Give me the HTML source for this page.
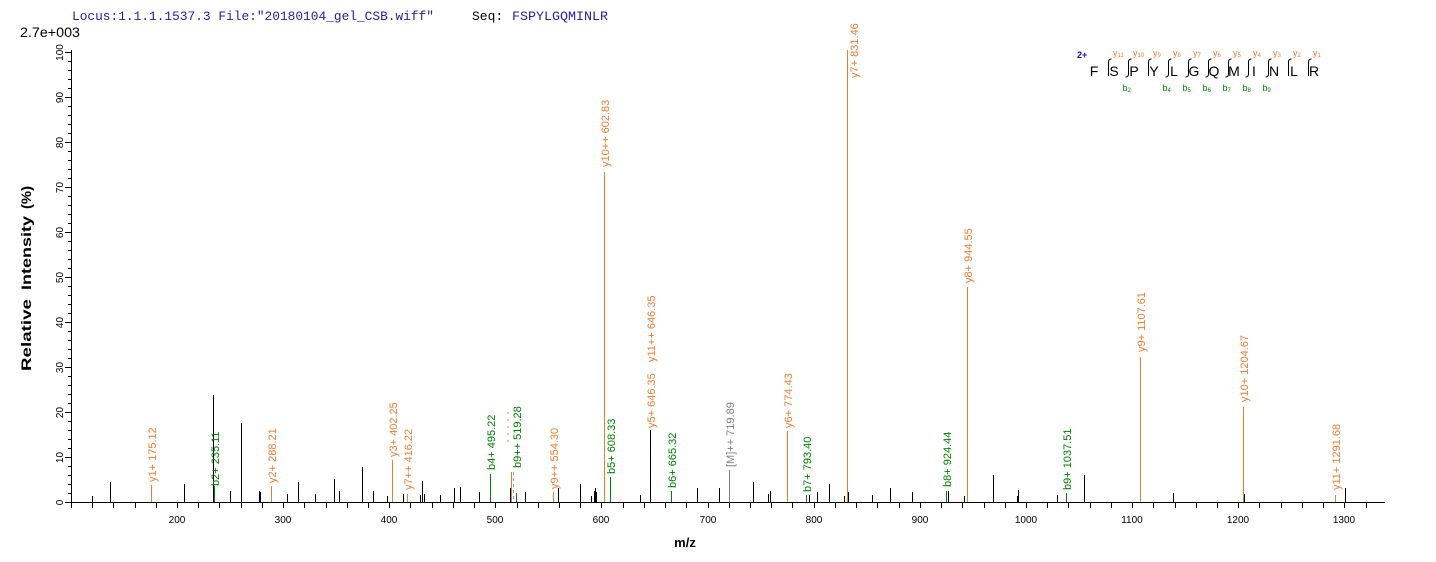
<!DOCTYPE html>
<html><head><meta charset="utf-8"><style>
html,body{margin:0;padding:0;background:#fff;}
svg{display:block;}
text{font-family:"Liberation Sans",Arial,sans-serif;}
.mono{font-family:"Liberation Mono","Courier New",monospace;}
</style></head><body>
<svg width="1436" height="562" viewBox="0 0 1436 562" xmlns="http://www.w3.org/2000/svg">
<rect width="1436" height="562" fill="#fff"/>
<!-- header -->
<text class="mono" x="72" y="20" font-size="13" fill="#2222a8" textLength="362" lengthAdjust="spacingAndGlyphs">Locus:1.1.1.1537.3 File:"20180104_gel_CSB.wiff"</text>
<text class="mono" x="472" y="20" font-size="13" fill="#000">Seq:</text>
<text class="mono" x="512" y="20" font-size="13" fill="#2222a8" textLength="96" lengthAdjust="spacingAndGlyphs">FSPYLGQMINLR</text>
<text x="20" y="37" font-size="13.5" fill="#000" textLength="60" lengthAdjust="spacingAndGlyphs">2.7e+003</text>

<!-- y axis title -->
<g font-weight="bold" font-size="14" fill="#000">
<text transform="translate(31,371) rotate(-90)" textLength="72" lengthAdjust="spacingAndGlyphs">Relative</text>
<text transform="translate(31,290) rotate(-90)" textLength="74" lengthAdjust="spacingAndGlyphs">Intensity</text>
<text transform="translate(31,209) rotate(-90)" textLength="23" lengthAdjust="spacingAndGlyphs">(%)</text>
</g>
<text x="685" y="547" font-size="13" font-weight="bold" text-anchor="middle">m/z</text>

<!-- axes -->
<g stroke="#000" stroke-width="1" shape-rendering="crispEdges" fill="none">
<line x1="71.5" y1="50" x2="71.5" y2="503"/>
<line x1="71" y1="502.5" x2="1385" y2="502.5"/>
<path d="M65 502.5H71M65 457.5H71M65 412.5H71M65 367.5H71M65 322.5H71M65 277.5H71M65 232.5H71M65 187.5H71M65 142.5H71M65 97.5H71M65 52.5H71"/>
<path d="M68 493.5H71M68 484.5H71M68 475.5H71M68 466.5H71M68 448.5H71M68 439.5H71M68 430.5H71M68 421.5H71M68 403.5H71M68 394.5H71M68 385.5H71M68 376.5H71M68 358.5H71M68 349.5H71M68 340.5H71M68 331.5H71M68 313.5H71M68 304.5H71M68 295.5H71M68 286.5H71M68 268.5H71M68 259.5H71M68 250.5H71M68 241.5H71M68 223.5H71M68 214.5H71M68 205.5H71M68 196.5H71M68 178.5H71M68 169.5H71M68 160.5H71M68 151.5H71M68 133.5H71M68 124.5H71M68 115.5H71M68 106.5H71M68 88.5H71M68 79.5H71M68 70.5H71M68 61.5H71"/>
<path d="M71.5 502V508M92.5 502V508M113.5 502V508M135.5 502V508M156.5 502V508M177.5 502V508M198.5 502V508M219.5 502V508M241.5 502V508M262.5 502V508M283.5 502V508M304.5 502V508M326.5 502V508M347.5 502V508M368.5 502V508M389.5 502V508M410.5 502V508M432.5 502V508M453.5 502V508M474.5 502V508M495.5 502V508M517.5 502V508M538.5 502V508M559.5 502V508M580.5 502V508M601.5 502V508M623.5 502V508M644.5 502V508M665.5 502V508M686.5 502V508M708.5 502V508M729.5 502V508M750.5 502V508M771.5 502V508M792.5 502V508M814.5 502V508M835.5 502V508M856.5 502V508M877.5 502V508M899.5 502V508M920.5 502V508M941.5 502V508M962.5 502V508M984.5 502V508M1005.5 502V508M1026.5 502V508M1047.5 502V508M1068.5 502V508M1090.5 502V508M1111.5 502V508M1132.5 502V508M1153.5 502V508M1175.5 502V508M1196.5 502V508M1217.5 502V508M1238.5 502V508M1259.5 502V508M1281.5 502V508M1302.5 502V508M1323.5 502V508M1344.5 502V508M1366.5 502V508"/>
</g>
<!-- y labels -->
<g font-size="10" fill="#000" text-anchor="middle">
<text transform="translate(63,502.5) rotate(-90)">0</text>
<text transform="translate(63,457.5) rotate(-90)">10</text>
<text transform="translate(63,412.5) rotate(-90)">20</text>
<text transform="translate(63,367.5) rotate(-90)">30</text>
<text transform="translate(63,322.5) rotate(-90)">40</text>
<text transform="translate(63,277.5) rotate(-90)">50</text>
<text transform="translate(63,232.5) rotate(-90)">60</text>
<text transform="translate(63,187.5) rotate(-90)">70</text>
<text transform="translate(63,142.5) rotate(-90)">80</text>
<text transform="translate(63,97.5) rotate(-90)">90</text>
<text transform="translate(63,52.5) rotate(-90)">100</text>
</g>
<!-- x labels -->
<g font-size="10" fill="#000" text-anchor="middle">
<text x="177" y="523">200</text><text x="283" y="523">300</text><text x="389" y="523">400</text><text x="495" y="523">500</text><text x="601" y="523">600</text><text x="708" y="523">700</text><text x="814" y="523">800</text><text x="920" y="523">900</text><text x="1026" y="523">1000</text><text x="1132" y="523">1100</text><text x="1238" y="523">1200</text><text x="1344" y="523">1300</text>
</g>

<!-- black peaks -->
<path stroke="#000" stroke-width="1" shape-rendering="crispEdges" fill="none" d="M92.5 502V496M110.5 502V482M184.5 502V484M213.5 502V395M230.5 502V491M241.5 502V423M259.5 502V491M260.5 502V492M287.5 502V494M298.5 502V482M315.5 502V494M334.5 502V479M339.5 502V491M362.5 502V467M373.5 502V491M387.5 502V496M403.5 502V494M420.5 502V495M422.5 502V481M424.5 502V494M440.5 502V495M454.5 502V488M460.5 502V487M479.5 502V492M510.5 502V488M525.5 502V492M558.5 502V488M580.5 502V484M591.5 502V496M594.5 502V491M595.5 502V488M596.5 502V492M640.5 502V495M650.5 502V430M697.5 502V488M719.5 502V488M753.5 502V482M768.5 502V494M770.5 502V491M809.5 502V495M817.5 502V492M829.5 502V484M844.5 502V496M848.5 502V492M872.5 502V495M890.5 502V488M912.5 502V492M948.5 502V491M964.5 502V496M993.5 502V475M1017.5 502V496M1018.5 502V490M1057.5 502V495M1084.5 502V475M1173.5 502V493M1244.5 502V494M1345.5 502V488"/>
<!-- orange peaks -->
<path stroke="#ED7D31" stroke-width="1" shape-rendering="crispEdges" fill="none" d="M151.5 502V485M271.5 502V486M392.5 502V460M407.5 502V494M511.5 502V472M553.5 502V492M604.5 502V172M787.5 502V431M847.5 502V50M967.5 502V287M1140.5 502V357M1243.5 502V407M1335.5 502V495"/>
<!-- green peaks -->
<path stroke="#008000" stroke-width="1" shape-rendering="crispEdges" fill="none" d="M214.5 502V486M490.5 502V474M516.5 502V493M610.5 502V477M671.5 502V491M806.5 502V495M946.5 502V491M1066.5 502V493"/>
<!-- gray -->
<path stroke="#808080" stroke-width="1" shape-rendering="crispEdges" fill="none" d="M729.5 502V470"/>
<line x1="508" y1="412" x2="508" y2="447" stroke="#ED7D31" stroke-dasharray="2,5"/>
<line x1="513.5" y1="472" x2="513.5" y2="501" stroke="#999" stroke-dasharray="3,3"/>

<!-- peak labels -->
<g font-size="11">
<g fill="#ED7D31">
<text transform="translate(156,482) rotate(-90)">y1+ 175.12</text>
<text transform="translate(276,483) rotate(-90)">y2+ 288.21</text>
<text transform="translate(397,457) rotate(-90)">y3+ 402.25</text>
<text transform="translate(412,490) rotate(-90)">y7++ 416.22</text>
<text transform="translate(558,489) rotate(-90)">y9++ 554.30</text>
<text transform="translate(609,167) rotate(-90)">y10++ 602.83</text>
<text transform="translate(655,428) rotate(-90)">y5+ 646.35</text>
<text transform="translate(655,362) rotate(-90)">y11++ 646.35</text>
<text transform="translate(792,428) rotate(-90)">y6+ 774.43</text>
<text transform="translate(858,78) rotate(-90)">y7+ 831.46</text>
<text transform="translate(972,283) rotate(-90)">y8+ 944.55</text>
<text transform="translate(1145,352) rotate(-90)">y9+ 1107.61</text>
<text transform="translate(1248,402) rotate(-90)">y10+ 1204.67</text>
<text transform="translate(1340,490) rotate(-90)">y11+ 1291.68</text>
</g>
<g fill="#008000">
<text transform="translate(219,486) rotate(-90)">b2+ 235.11</text>
<text transform="translate(495,470) rotate(-90)">b4+ 495.22</text>
<text transform="translate(521,468) rotate(-90)">b9++ 519.28</text>
<text transform="translate(615,474) rotate(-90)">b5+ 608.33</text>
<text transform="translate(676,488) rotate(-90)">b6+ 665.32</text>
<text transform="translate(811,492) rotate(-90)">b7+ 793.40</text>
<text transform="translate(951,487) rotate(-90)">b8+ 924.44</text>
<text transform="translate(1071,490) rotate(-90)">b9+ 1037.51</text>
</g>
<text transform="translate(734,467) rotate(-90)" fill="#808080">[M]++ 719.89</text>
</g>

<!-- legend -->
<g>
<text x="1077" y="58" font-size="9" font-weight="bold" fill="#1010c8">2+</text>
<g font-size="14" text-anchor="middle" fill="#000">
<text x="1094" y="76">F</text><text x="1114" y="76">S</text><text x="1134" y="76">P</text><text x="1154" y="76">Y</text><text x="1174" y="76">L</text><text x="1194" y="76">G</text><text x="1214" y="76">Q</text><text x="1234" y="76">M</text><text x="1254" y="76">I</text><text x="1274" y="76">N</text><text x="1294" y="76">L</text><text x="1314" y="76">R</text>
</g>
<g fill="none" stroke="#000" stroke-width="1">
<path d="M1111.5,59 Q1108.5,59 1108.5,62 L1108.5,76"/>
<path d="M1131.5,59 Q1128.5,59 1128.5,62 L1128.5,74 Q1128.5,77 1125.5,77"/>
<path d="M1151.5,59 Q1148.5,59 1148.5,62 L1148.5,76"/>
<path d="M1171.5,59 Q1168.5,59 1168.5,62 L1168.5,74 Q1168.5,77 1165.5,77"/>
<path d="M1191.5,59 Q1188.5,59 1188.5,62 L1188.5,74 Q1188.5,77 1185.5,77"/>
<path d="M1211.5,59 Q1208.5,59 1208.5,62 L1208.5,74 Q1208.5,77 1205.5,77"/>
<path d="M1231.5,59 Q1228.5,59 1228.5,62 L1228.5,74 Q1228.5,77 1225.5,77"/>
<path d="M1251.5,59 Q1248.5,59 1248.5,62 L1248.5,74 Q1248.5,77 1245.5,77"/>
<path d="M1271.5,59 Q1268.5,59 1268.5,62 L1268.5,74 Q1268.5,77 1265.5,77"/>
<path d="M1291.5,59 Q1288.5,59 1288.5,62 L1288.5,76"/>
<path d="M1311.5,59 Q1308.5,59 1308.5,62 L1308.5,76"/>
</g>
<g font-size="9" fill="#ED7D31">
<text x="1113" y="56">y<tspan font-size="6" dy="1">11</tspan></text>
<text x="1133" y="56">y<tspan font-size="6" dy="1">10</tspan></text>
<text x="1153" y="56">y<tspan font-size="6" dy="1">9</tspan></text>
<text x="1173" y="56">y<tspan font-size="6" dy="1">8</tspan></text>
<text x="1193" y="56">y<tspan font-size="6" dy="1">7</tspan></text>
<text x="1213" y="56">y<tspan font-size="6" dy="1">6</tspan></text>
<text x="1233" y="56">y<tspan font-size="6" dy="1">5</tspan></text>
<text x="1253" y="56">y<tspan font-size="6" dy="1">4</tspan></text>
<text x="1273" y="56">y<tspan font-size="6" dy="1">3</tspan></text>
<text x="1293" y="56">y<tspan font-size="6" dy="1">2</tspan></text>
<text x="1313" y="56">y<tspan font-size="6" dy="1">1</tspan></text>
</g>
<g font-size="9" fill="#008000">
<text x="1122.5" y="91">b<tspan font-size="6" dy="1">2</tspan></text>
<text x="1162.5" y="91">b<tspan font-size="6" dy="1">4</tspan></text>
<text x="1182.5" y="91">b<tspan font-size="6" dy="1">5</tspan></text>
<text x="1202.5" y="91">b<tspan font-size="6" dy="1">6</tspan></text>
<text x="1222.5" y="91">b<tspan font-size="6" dy="1">7</tspan></text>
<text x="1242.5" y="91">b<tspan font-size="6" dy="1">8</tspan></text>
<text x="1262.5" y="91">b<tspan font-size="6" dy="1">9</tspan></text>
</g>
</g>
</svg>
</body></html>
